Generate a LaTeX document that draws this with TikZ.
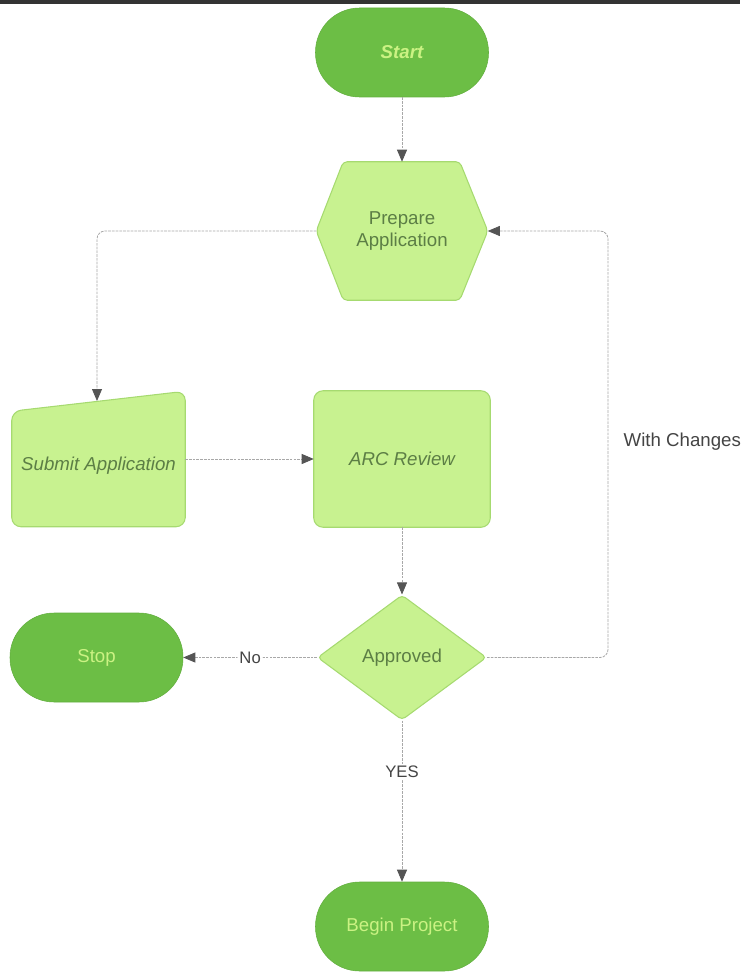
\documentclass[tikz,border=0pt]{standalone}
\usepackage{fontspec}
\setmainfont{Liberation Sans}
\usetikzlibrary{shapes.geometric,arrows.meta,calc,backgrounds}
\definecolor{dkfill}{HTML}{6CBE45}
\definecolor{dktext}{HTML}{CBF283}
\definecolor{ltfill}{HTML}{C8F290}
\definecolor{ltdraw}{HTML}{A6DA70}
\definecolor{lttext}{HTML}{5C7E45}
\definecolor{linec}{HTML}{A8A8A8}
\definecolor{tipc}{HTML}{555555}
\definecolor{labc}{HTML}{444444}
\tikzset{
  term/.style={rectangle, rounded corners=33pt, fill=dkfill, draw=dkfill!92!black, line width=0.4pt,
    minimum width=129.75pt, minimum height=66.75pt, text=dktext, font=\fontsize{14}{16}\selectfont},
  lightbox/.style={rectangle, minimum width=129pt, minimum height=102pt, text=lttext,
    font=\fontsize{14}{16}\selectfont, align=center},
  lightshape/.style={fill=ltfill, draw=ltdraw, line width=0.8pt, rounded corners=5pt},
  decision/.style={diamond, fill=ltfill, draw=ltdraw, line width=0.8pt, rounded corners=3pt,
    minimum width=126.75pt, minimum height=93.75pt, inner sep=0pt, text=lttext,
    font=\fontsize{14}{16}\selectfont},
  conn/.style={draw=linec, line width=0.6pt, dash pattern=on 2pt off 0.8pt, rounded corners=6pt,
    -{Triangle[length=9pt,width=7.5pt,color=tipc]}},
  lab/.style={fill=white, text=labc, inner sep=1.5pt, font=\fontsize{12.5}{14}\selectfont},
}
\begin{document}
\begin{tikzpicture}[x=0.75pt,y=-0.75pt]
\useasboundingbox (0,0) rectangle (740,973);
\draw[color=black!80, line width=2.6pt] (0,1.8) -- (740,1.8);

% nodes
\node[term, font=\fontsize{14}{16}\selectfont\itshape\bfseries] (start) at (402,52.5) {Start};
\node[lightbox, minimum width=128.25pt, minimum height=103.5pt] (prep) at (402,231) {Prepare\\Application};
\node[lightbox, minimum width=129.75pt, minimum height=101.25pt] (sub) at (98.5,459) {};
\node[text=lttext, font=\fontsize{14}{16}\selectfont\itshape] (subtxt) at (98.5,466) {Submit Application};
\node[lightbox, minimum width=132pt, minimum height=102pt, font=\fontsize{14}{16}\selectfont\itshape] (arc) at (402,459) {ARC Review};
\node[decision] (appr) at (402,657.5) {Approved};
\node[term] (stop) at (96.5,657.5) {Stop};
\node[term] (begin) at (402,926.5) {Begin Project};

% shapes behind text
\begin{scope}[on background layer]
  \draw[lightshape, rounded corners=3pt] (prep.west) -- ($(prep.north west)+(27,0)$) -- ($(prep.north east)+(-28,0)$)
     -- (prep.east) -- ($(prep.south east)+(-28,0)$) -- ($(prep.south west)+(27,0)$) -- cycle;
  \draw[lightshape, rounded corners=7pt] ($(sub.north west)+(0,20)$) -- (sub.north east) -- (sub.south east)
     -- (sub.south west) -- cycle;
  \draw[lightshape, rounded corners=7pt] (arc.north west) rectangle (arc.south east);
\end{scope}

% connectors
\coordinate (subtop) at (97,401);
\coordinate (wcx) at (608,657.5);
\draw[conn] (start) -- (prep);
\draw[conn] (prep.west) -| (subtop);
\draw[conn] (sub.east) -- (arc.west);
\draw[conn] (arc) -- (appr);
\draw[conn] (appr.west) -- node[lab, pos=0.5] {No} (stop.east);
\draw[conn] (appr.east) -- (wcx) |- (prep.east);
\draw[conn] (appr.south) -- node[lab, pos=0.32] {YES} (begin.north);
\node[anchor=west, text=labc, font=\fontsize{14}{16}\selectfont] (wclab) at (619,442) {With Changes};
\end{tikzpicture}
\end{document}
